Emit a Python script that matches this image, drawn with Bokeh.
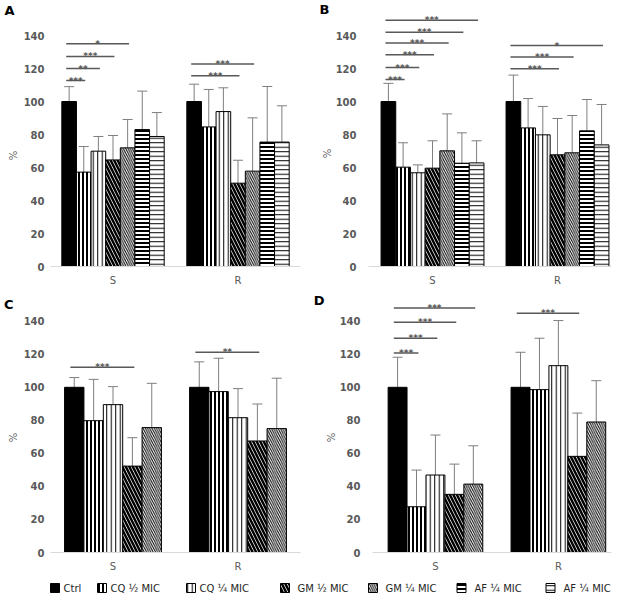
import math
from bokeh.plotting import figure
from bokeh.layouts import column, row
from bokeh.models import Range1d, ColumnDataSource, Whisker, TeeHead, FixedTicker, LinearAxis
from bokeh.core.properties import value
from bokeh.embed import file_html
from bokeh.resources import INLINE

# ---------------- data ----------------
series = ["Ctrl", "CQ ½ MIC", "CQ ¼ MIC", "GM ½ MIC", "GM ¼ MIC", "AF ¼ MIC", "AF ¼ MIC"]
groups = ["S", "R"]
y_ticks = [0, 20, 40, 60, 80, 100, 120, 140]

# Panel A (7 series): mean and SD for strain S and strain R
A_S_mean = [100, 57.2, 69.9, 64.6, 71.9, 83.0, 78.8]
A_S_sd = [9.0, 15.5, 8.9, 14.8, 17.2, 23.3, 14.5]
A_R_mean = [100, 84.6, 93.9, 50.5, 57.8, 75.4, 75.4]
A_R_sd = [10.5, 22.7, 14.4, 13.9, 32.3, 33.7, 22.0]

# Panel B (7 series)
B_S_mean = [100, 60.2, 56.8, 59.6, 70.1, 62.6, 62.8]
B_S_sd = [11.0, 14.8, 4.8, 16.6, 22.4, 18.4, 13.4]
B_R_mean = [100, 84.0, 79.8, 67.7, 68.9, 82.2, 73.7]
B_R_sd = [16.0, 17.8, 17.2, 22.0, 22.6, 19.0, 24.5]

# Panel C (5 series)
C_S_mean = [100, 79.8, 89.5, 52.3, 75.6]
C_S_sd = [5.9, 25.0, 10.9, 17.2, 26.8]
C_R_mean = [100, 97.4, 81.6, 67.5, 75.0]
C_R_sd = [15.4, 20.2, 17.6, 22.4, 30.5]

# Panel D (5 series)
D_S_mean = [100, 27.7, 46.9, 35.2, 41.4]
D_S_sd = [18.2, 22.2, 24.2, 18.3, 23.2]
D_R_mean = [100, 98.6, 113.1, 58.2, 79.0]
D_R_sd = [21.2, 31.1, 27.3, 26.2, 25.0]

# significance brackets: (group, compared series index, level, stars)
A_sig = [("S", 1, 112.7, "***"), ("S", 2, 120.0, "**"), ("S", 3, 127.3, "***"), ("S", 4, 135.0, "*"),
         ("R", 3, 115.6, "***"), ("R", 4, 122.8, "***")]
B_sig = [("S", 1, 113.3, "***"), ("S", 2, 120.6, "***"), ("S", 3, 128.3, "***"), ("S", 4, 135.4, "***"),
         ("S", 5, 142.0, "***"), ("S", 6, 149.3, "***"),
         ("R", 3, 119.8, "***"), ("R", 4, 126.9, "***"), ("R", 6, 133.9, "*")]
C_sig = [("S", 3, 112.1, "***"), ("R", 3, 121.2, "**")]
D_sig = [("S", 1, 120.8, "***"), ("S", 2, 129.7, "***"), ("S", 3, 139.4, "***"), ("S", 4, 148.0, "***"),
         ("R", 3, 144.8, "***")]

# ---------------- styles ----------------
STYLES = [
    dict(fill_color="black", hatch_pattern=None, hatch_scale=4, hatch_weight=1),
    dict(fill_color="white", hatch_pattern="|", hatch_scale=4, hatch_weight=2),
    dict(fill_color="white", hatch_pattern="|", hatch_scale=4.5, hatch_weight=1),
    dict(fill_color="white", hatch_pattern="\\", hatch_scale=7, hatch_weight=2.5),
    dict(fill_color="white", hatch_pattern="\\", hatch_scale=4.5, hatch_weight=1),
    dict(fill_color="white", hatch_pattern="-", hatch_scale=4, hatch_weight=2),
    dict(fill_color="white", hatch_pattern="-", hatch_scale=4.5, hatch_weight=1),
]
GRAY = "#595959"
FONT = "DejaVu Sans"
PX_PER_UNIT_X = 125.0


def style_kw(j):
    s = STYLES[j]
    kw = dict(fill_color=s["fill_color"], line_color="black", line_width=1)
    if s["hatch_pattern"]:
        kw.update(hatch_pattern=s["hatch_pattern"], hatch_scale=s["hatch_scale"],
                  hatch_weight=s["hatch_weight"], hatch_color="black")
    return kw


def side_axis(tick, text, standoff, size, style, color, orientation):
    ax = LinearAxis(ticker=FixedTicker(ticks=[tick]), major_label_overrides={tick: text})
    ax.axis_line_color = None
    ax.major_tick_line_color = None
    ax.minor_tick_line_color = None
    ax.major_tick_out = 0
    ax.major_tick_in = 0
    ax.minor_tick_out = 0
    ax.minor_tick_in = 0
    ax.major_label_standoff = standoff
    ax.major_label_text_font = FONT
    ax.major_label_text_font_size = size
    ax.major_label_text_font_style = style
    ax.major_label_text_color = color
    ax.major_label_orientation = orientation
    return ax


def make_panel(S_mean, S_sd, R_mean, R_sd, sig, width, height, frame_h, y_end, bl, frame_w,
               x0, bw, standoff, letter, letter_fy, letter_so, pct_fy, pct_so):
    x1 = x0 + frame_w / PX_PER_UNIT_X
    p = figure(width=width, height=height, x_range=Range1d(x0, x1), y_range=Range1d(0, y_end),
               output_backend="svg", toolbar_location=None,
               min_border_left=bl, min_border_right=width - bl - frame_w,
               min_border_top=0, min_border_bottom=height - frame_h,
               outline_line_color=None)
    n = len(S_mean)
    centers = {g: i + 0.5 for i, g in enumerate(groups)}
    xs_all, lo_all, up_all = [], [], []
    for j in range(n):
        xs = [centers[g] + (j - (n - 1) / 2) * bw for g in groups]
        tops = [S_mean[j], R_mean[j]]
        p.vbar(x=xs, top=tops, bottom=0, width=bw, **style_kw(j))
        xs_all += xs
        lo_all += tops
        up_all += [S_mean[j] + S_sd[j], R_mean[j] + R_sd[j]]
    src = ColumnDataSource(dict(x=xs_all, lower=lo_all, upper=up_all))
    p.add_layout(Whisker(base="x", lower="lower", upper="upper", source=src,
                         line_color="#7f7f7f", line_width=1,
                         upper_head=TeeHead(size=10, line_color="#7f7f7f", line_width=1),
                         lower_head=None))
    # significance brackets
    sx0, sx1, sy, sm, st = [], [], [], [], []
    for g, k, lev, stars in sig:
        c = centers[g]
        a = c + (0 - (n - 1) / 2) * bw - 0.2 * bw
        b = c + (k - (n - 1) / 2) * bw + 0.1 * bw
        sx0.append(a); sx1.append(b); sy.append(lev); sm.append((a + b) / 2); st.append(stars)
    ssrc = ColumnDataSource(dict(x0=sx0, x1=sx1, y=sy, xm=sm, t=st))
    p.segment(x0="x0", y0="y", x1="x1", y1="y", source=ssrc, line_color=GRAY, line_width=1.5)
    p.text(x="xm", y="y", text="t", source=ssrc, text_font=value(FONT), text_font_size="9px",
           text_font_style="bold", text_color=GRAY, text_align="center", text_baseline="alphabetic")

    # axes
    p.xgrid.visible = False
    p.ygrid.visible = False
    p.yaxis.ticker = FixedTicker(ticks=y_ticks)
    p.yaxis.axis_line_color = None
    p.yaxis.major_tick_line_color = None
    p.yaxis.minor_tick_line_color = None
    p.yaxis.major_tick_out = 0
    p.yaxis.major_tick_in = 0
    p.yaxis.minor_tick_out = 0
    p.yaxis.major_label_standoff = standoff
    p.yaxis.major_label_text_font = FONT
    p.yaxis.major_label_text_font_size = "10px"
    p.yaxis.major_label_text_font_style = "bold"
    p.yaxis.major_label_text_color = GRAY
    p.xaxis.ticker = FixedTicker(ticks=[0.5, 1.5])
    p.xaxis.major_label_overrides = {0.5: groups[0], 1.5: groups[1]}
    p.xaxis.axis_line_color = "#d9d9d9"
    p.xaxis.axis_line_width = 1
    p.xaxis.major_tick_line_color = None
    p.xaxis.minor_tick_line_color = None
    p.xaxis.major_tick_out = 0
    p.xaxis.major_tick_in = 0
    p.xaxis.minor_tick_out = 0
    p.xaxis.major_label_standoff = 8
    p.xaxis.major_label_text_font = FONT
    p.xaxis.major_label_text_font_size = "10px"
    p.xaxis.major_label_text_color = GRAY

    # "%" unit label and the panel letter, as extra left-side axes (outside the frame)
    def fy_to_val(fy):
        return (frame_h - fy) / frame_h * y_end

    p.add_layout(side_axis(fy_to_val(pct_fy), "%", pct_so, "10px", "normal", GRAY, "vertical"), "left")
    p.add_layout(side_axis(fy_to_val(letter_fy), letter, letter_so, "13px", "bold", "black", "horizontal"), "left")
    return p


TOP_H, TOP_FRAME = 290, 266
BOT_H, BOT_FRAME = 288, 262
TOP_YEND = TOP_FRAME / 1.65
BOT_YEND = BOT_FRAME / 1.652

pA = make_panel(A_S_mean, A_S_sd, A_R_mean, A_R_sd, A_sig, 310, TOP_H, TOP_FRAME, TOP_YEND,
                50, 250, 0.0, 0.117, 6, "A", 9.5, -10, 155, 2)
pB = make_panel(B_S_mean, B_S_sd, B_R_mean, B_R_sd, B_sig, 311, TOP_H, TOP_FRAME, TOP_YEND,
                58, 243, -0.012, 0.1176, 12, "B", 8.5, -11, 153, 0)
pC = make_panel(C_S_mean, C_S_sd, C_R_mean, C_R_sd, C_sig, 310, BOT_H, BOT_FRAME, BOT_YEND,
                50, 250, 0.0, 0.155, 6, "C", 14, -9, 147, 2)
pD = make_panel(D_S_mean, D_S_sd, D_R_mean, D_R_sd, D_sig, 311, BOT_H, BOT_FRAME, BOT_YEND,
                58, 243, -0.012, 0.154, 12, "D", 10, -2, 147, 0)

# ---------------- legend ----------------
LEG_W, LEG_H = 621, 22
pL = figure(width=LEG_W, height=LEG_H, x_range=Range1d(0, LEG_W), y_range=Range1d(0, LEG_H),
            output_backend="svg", toolbar_location=None, x_axis_type=None, y_axis_type=None,
            min_border=0, outline_line_color=None)
pL.grid.visible = False
leg_swatch_x = [54.5, 101.5, 190.5, 284.5, 372.5, 461, 550]
leg_text_x = [63, 110, 199, 297, 385, 474, 563]
for j, name in enumerate(series):
    pL.rect(x=[leg_swatch_x[j]], y=[12.5], width=9, height=9, **style_kw(j))
    pL.text(x=[leg_text_x[j]], y=[12.5], text=[name], text_font=value(FONT), text_font_size="10px",
            text_color="#262626", text_align="left", text_baseline="middle")

layout = column(row(pA, pB), row(pC, pD), pL)
open("out.html", "w").write(file_html(layout, INLINE))
